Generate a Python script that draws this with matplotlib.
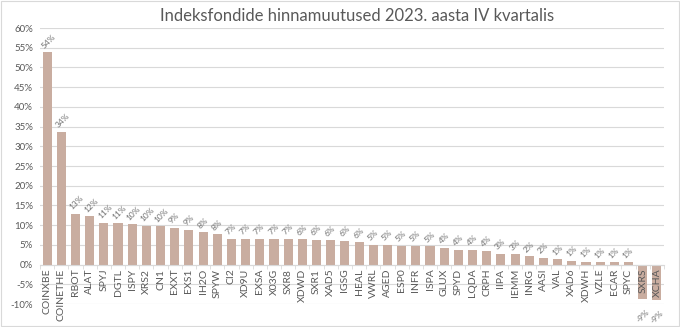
import numpy as np
import matplotlib
matplotlib.use("Agg")
import matplotlib.pyplot as plt
import matplotlib.ticker as mticker

# fondid ja nende hinnamuutus (%)
fondid = ["COINXBE", "COINETHE", "RBOT", "ALAT", "SPYJ", "DGTL", "ISPY", "XRS2", "CN1", "EXXT",
          "EXS1", "IH2O", "SPYW", "CI2", "XD9U", "EXSA", "X03G", "SXR8", "XDWD", "SXR1",
          "XAD5", "IGSG", "HEAL", "VWRL", "AGED", "ESP0", "INFR", "ISPA", "GLUX", "SPYD",
          "LQDA", "CRPH", "IIPA", "IEMM", "INRG", "AASI", "VAL", "XAD6", "XDWH", "VZLE",
          "ECAR", "SPYC", "SXRS", "XCHA"]
muutus = [53.9, 33.7, 12.9, 12.2, 10.6, 10.5, 10.2, 9.9, 9.7, 9.4,
          8.8, 8.2, 7.7, 6.6, 6.6, 6.6, 6.5, 6.5, 6.4, 6.3,
          6.2, 6.1, 5.6, 5.0, 5.0, 4.8, 4.8, 4.7, 4.3, 3.8,
          3.7, 3.5, 2.7, 2.6, 2.1, 1.7, 1.3, 1.0, 0.7, 0.65,
          0.55, 0.55, -8.8, -9.1]

bar_col = "#C9ADA0"
txt_col = "#595959"

plt.rcParams["font.family"] = ["Lato", "DejaVu Sans"]

fig = plt.figure(figsize=(6.8, 3.27), dpi=100)
ax = fig.add_axes([40/680, 1-304/327, 624/680, 276/327])

x = np.arange(len(fondid))
ax.bar(x, muutus, width=0.64, color=bar_col, zorder=2)

ax.set_xlim(-0.5, len(fondid)-0.5)
ax.set_ylim(-10, 60)
ax.yaxis.set_major_locator(mticker.MultipleLocator(5))
ax.yaxis.set_major_formatter(mticker.FuncFormatter(lambda v, p: "%d%%" % round(v)))
for yv in range(-10, 61, 5):
    ax.axhline(yv, color="#D9D9D9", linewidth=0.8, zorder=1)
ax.set_axisbelow(False)

for s in ["top", "right", "left"]:
    ax.spines[s].set_visible(False)
ax.spines["bottom"].set_position(("data", 0))
ax.spines["bottom"].set_color("#D9D9D9")

ax.set_xticks(x)
ax.set_xticklabels(fondid, rotation=90, fontsize=7.5, color=txt_col)
ax.tick_params(axis="x", length=0, pad=3)
ax.set_xticks(np.arange(-0.5, len(fondid), 1), minor=True)
ax.tick_params(axis="x", which="minor", length=3, color="#D9D9D9")
ax.tick_params(axis="y", length=0, labelsize=7, labelcolor=txt_col, pad=5)

for xi, v in zip(x, muutus):
    lab = "%d%%" % int(v + 0.5) if v >= 0 else "%d%%" % -int(-v + 0.5)
    if v >= 0:
        ax.annotate(lab, (xi, v), xytext=(-1.5, 2), textcoords="offset points",
                    rotation=45, fontsize=6, color="#6E6E6E", ha="left", va="bottom",
                    rotation_mode="anchor")
    else:
        ax.annotate(lab, (xi, v), xytext=(0, -12), textcoords="offset points",
                    rotation=45, fontsize=6, color="#6E6E6E", ha="center", va="center")

fig.text(0.525, 0.95, "Indeksfondide hinnamuutused 2023. aasta IV kvartalis",
         ha="center", va="center", fontsize=12, color=txt_col)

fig.patches.append(plt.Rectangle((0.002, 0.003), 0.996, 0.994, transform=fig.transFigure,
                                 fill=False, edgecolor="#D9D9D9", linewidth=0.8))

fig.savefig("out.png", dpi=100)
